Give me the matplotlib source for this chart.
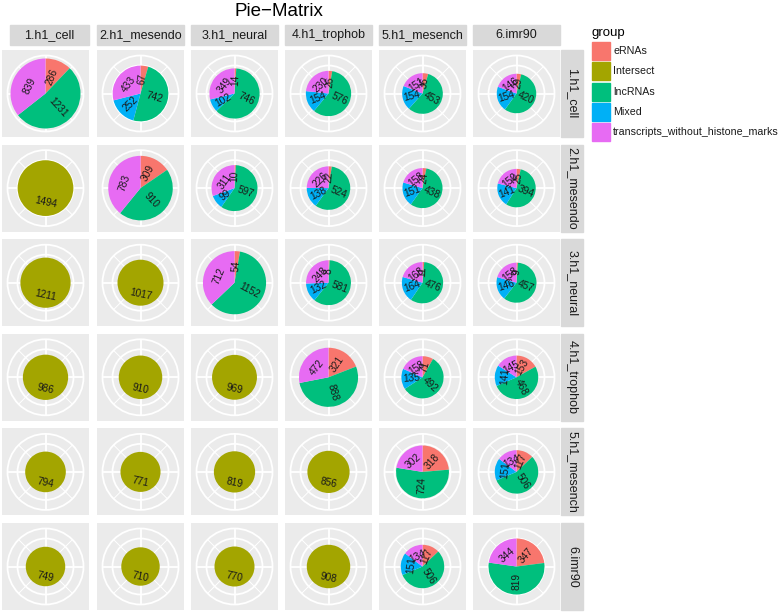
import numpy as np
import matplotlib
matplotlib.use("Agg")
import matplotlib.pyplot as plt
from matplotlib.patches import Rectangle, Circle

plt.rcParams['font.family'] = ['Liberation Sans', 'DejaVu Sans']

# ---------------- data ----------------
cells = ['1.h1_cell', '2.h1_mesendo', '3.h1_neural', '4.h1_trophob', '5.h1_mesench', '6.imr90']
groups = ['eRNAs', 'Intersect', 'lncRNAs', 'Mixed', 'transcripts_without_histone_marks']
colors = ['#F8766D', '#A3A500', '#00BF7D', '#00B0F6', '#E76BF3']

eRNAs = [
    [286, 67, 14, 26, 36, 29],
    [0, 309, 10, 22, 24, 25],
    [0, 0, 54, 8, 11, 9],
    [0, 0, 0, 321, 71, 153],
    [0, 0, 0, 0, 318, 117],
    [0, 0, 0, 0, 117, 347],
]
lncRNAs = [
    [1231, 742, 746, 576, 453, 420],
    [0, 910, 597, 524, 438, 394],
    [0, 0, 1152, 581, 476, 457],
    [0, 0, 0, 888, 492, 468],
    [0, 0, 0, 0, 724, 506],
    [0, 0, 0, 0, 506, 819],
]
Mixed = [
    [0, 252, 102, 154, 154, 154],
    [0, 0, 99, 138, 151, 141],
    [0, 0, 0, 132, 164, 146],
    [0, 0, 0, 0, 135, 141],
    [0, 0, 0, 0, 0, 151],
    [0, 0, 0, 0, 151, 0],
]
transcripts = [
    [839, 433, 349, 230, 151, 146],
    [0, 783, 311, 226, 158, 150],
    [0, 0, 712, 248, 168, 158],
    [0, 0, 0, 472, 158, 145],
    [0, 0, 0, 0, 302, 134],
    [0, 0, 0, 0, 134, 344],
]
Intersect = [
    [0, 0, 0, 0, 0, 0],
    [1494, 0, 0, 0, 0, 0],
    [1211, 1017, 0, 0, 0, 0],
    [986, 910, 969, 0, 0, 0],
    [794, 771, 819, 856, 0, 0],
    [749, 710, 770, 908, 0, 0],
]

# ---------------- layout (pixels) ----------------
W, H = 778, 612
fig = plt.figure(figsize=(W / 100, H / 100), dpi=100)

col_left = [2, 97, 191, 285, 379, 473]
row_top = [50, 144.6, 239.2, 333.8, 428.4, 523]
PS = 87            # panel size
RMAX = 35          # pie radius for the largest total
grid_r = [28, 38]

def fig_rect(x0, y0, w, h):
    return [x0 / W, 1 - (y0 + h) / H, w / W, h / H]

totals_all = []
for i in range(6):
    for j in range(6):
        totals_all.append(eRNAs[i][j] + lncRNAs[i][j] + Mixed[i][j] + transcripts[i][j] + Intersect[i][j])
TMAX = max(totals_all)

def label_rot(theta, single):
    if single:
        return -12
    rot = 90 - theta
    if rot < -180:
        rot += 270
    elif rot < -90:
        rot += 180
    return rot

for i in range(6):
    for j in range(6):
        vals = [eRNAs[i][j], Intersect[i][j], lncRNAs[i][j], Mixed[i][j], transcripts[i][j]]
        ax = fig.add_axes(fig_rect(col_left[j], row_top[i], PS, PS))
        ax.set_facecolor('#EBEBEB')
        h = PS / 2
        # grid
        for gr in grid_r:
            ax.add_patch(Circle((0, 0), gr, fill=False, ec='white', lw=1.3, zorder=1))
        for k in range(8):
            a = np.deg2rad(45 * k)
            ax.plot([0, grid_r[-1] * np.sin(a)], [0, grid_r[-1] * np.cos(a)],
                    color='white', lw=1.3 if k % 2 == 0 else 0.7, zorder=1,
                    solid_capstyle='butt')
        nz = [(v, c) for v, c in zip(vals, colors) if v > 0]
        total = sum(v for v, c in nz)
        if total > 0:
            r = RMAX * np.sqrt(total / TMAX)
            wedges, _ = ax.pie([v for v, c in nz], colors=[c for v, c in nz], radius=r,
                               startangle=90, counterclock=False,
                               wedgeprops=dict(linewidth=0, zorder=2))
            cum = 0
            single = len(nz) == 1
            for v, c in nz:
                mid = (cum + v / 2) / total * 360
                cum += v
                lr = r * 0.52
                ax.text(lr * np.sin(np.deg2rad(mid)), lr * np.cos(np.deg2rad(mid)), str(v),
                        rotation=label_rot(mid, single), rotation_mode='anchor',
                        ha='center', va='center', fontsize=7.3, color='#1a1a1a', zorder=3)
        ax.set_frame_on(True)
        for s in ax.spines.values():
            s.set_visible(False)
        ax.set_xlim(-h, h)
        ax.set_ylim(-h, h)
        ax.set_aspect('auto')
        ax.set_xticks([])
        ax.set_yticks([])

# top strips
for j, name in enumerate(cells):
    x0 = col_left[j] + (8 if j == 0 else 0)
    w = PS - (8 if j == 0 else 0)
    fig.patches.append(Rectangle((x0 / W, 1 - 45 / H), w / W, 20 / H,
                                 transform=fig.transFigure, color='#D9D9D9', zorder=0))
    fig.text((x0 + w / 2) / W, 1 - 35 / H, name, ha='center', va='center',
             fontsize=9, color='#1A1A1A')

# right strips
for i, name in enumerate(cells):
    fig.patches.append(Rectangle((561 / W, 1 - (row_top[i] + PS) / H), 22 / W, PS / H,
                                 transform=fig.transFigure, color='#D9D9D9', zorder=0))
    fig.text(572 / W, 1 - (row_top[i] + PS / 2) / H, name, ha='center', va='center',
             rotation=-90, fontsize=9, color='#1A1A1A')

# title
fig.text(279 / W, 1 - 11 / H, 'Pie\u2212Matrix', ha='center', va='center', fontsize=13.5, color='black')

# legend
fig.text(592 / W, 1 - 33 / H, 'group', ha='left', va='center', fontsize=9.5, color='black')
for k, (g, c) in enumerate(zip(groups, colors)):
    y0 = 42 + 20.3 * k
    fig.patches.append(Rectangle((592 / W, 1 - (y0 + 18) / H), 18 / W, 18 / H,
                                 transform=fig.transFigure, color=c, zorder=0))
    fig.text(613 / W, 1 - (y0 + 9) / H, g, ha='left', va='center', fontsize=7.7, color='#1A1A1A')

fig.savefig('out.png', dpi=100, facecolor='white')
